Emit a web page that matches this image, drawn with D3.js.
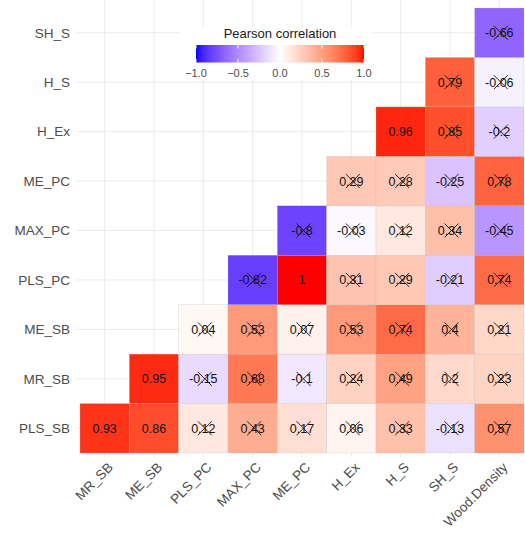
<!DOCTYPE html>
<html>
<head>
<meta charset="utf-8">
<script src="https://cdn.jsdelivr.net/npm/d3@7"></script>
<style>
  html, body { margin: 0; padding: 0; background: #fff; }
  svg { display: block; font-family: "Liberation Sans", Arial, sans-serif; }
</style>
</head>
<body>
<svg id="chart" width="525" height="534"></svg>
<script>
// ---- data ----
const xVars = ["MR_SB", "ME_SB", "PLS_PC", "MAX_PC", "ME_PC", "H_Ex", "H_S", "SH_S", "Wood.Density"];
const yVars = ["PLS_SB", "MR_SB", "ME_SB", "PLS_PC", "MAX_PC", "ME_PC", "H_Ex", "H_S", "SH_S"];
// row i (yVars[i]) holds values for columns xVars[i..8]
const corrRows = [
  [0.93, 0.86, 0.12, 0.43, 0.17, 0.06, 0.33, -0.13, 0.57],
  [0.95, -0.15, 0.68, -0.1, 0.24, 0.49, 0.2, 0.23],
  [0.04, 0.53, 0.07, 0.53, 0.74, 0.4, 0.21],
  [-0.82, 1, 0.31, 0.29, -0.21, 0.74],
  [-0.8, -0.03, 0.12, 0.34, -0.45],
  [0.29, 0.28, -0.25, 0.78],
  [0.96, 0.85, -0.2],
  [0.79, -0.06],
  [-0.66]
];
// 1 = significant (no cross), 0 = insignificant (crossed)
const sigRows = [
  [1, 1, 0, 0, 0, 0, 0, 0, 0],
  [1, 0, 0, 0, 0, 0, 0, 0],
  [0, 0, 0, 0, 0, 0, 0],
  [0, 1, 0, 0, 0, 0],
  [0, 0, 0, 0, 0],
  [0, 0, 0, 0],
  [1, 0, 0],
  [0, 0],
  [0]
];
const legendTicks = [-1, -0.5, 0, 0.5, 1];
const legendTitle = "Pearson correlation";

// ---- build cells ----
const cells = [];
corrRows.forEach((row, i) => {
  row.forEach((v, k) => {
    cells.push({ row: yVars[i], col: xVars[i + k], value: v, sig: sigRows[i][k] === 1 });
  });
});

const svg = d3.select("#chart");

const x = d3.scaleBand().domain(xVars).range([80, 524]).padding(0);
const y = d3.scaleBand().domain(yVars.slice().reverse()).range([8, 453]).padding(0);

const color = d3.scaleLinear()
  .domain([-1, 0, 1])
  .range(["blue", "white", "red"])
  .interpolate(d3.interpolateLab);

const axisGrey = "#4d4d4d";
const gridCol = "#ebebeb";

// grid lines
const grid = svg.append("g");
grid.selectAll("line.v").data(xVars).join("line")
  .attr("x1", d => x(d) + x.bandwidth() / 2).attr("x2", d => x(d) + x.bandwidth() / 2)
  .attr("y1", 0).attr("y2", 457)
  .attr("stroke", gridCol).attr("stroke-width", 1);
grid.selectAll("line.h").data(yVars).join("line")
  .attr("y1", d => y(d) + y.bandwidth() / 2).attr("y2", d => y(d) + y.bandwidth() / 2)
  .attr("x1", 76).attr("x2", 525)
  .attr("stroke", gridCol).attr("stroke-width", 1);

// tiles
const tiles = svg.append("g");
tiles.selectAll("rect").data(cells).join("rect")
  .attr("x", d => x(d.col)).attr("y", d => y(d.row))
  .attr("width", x.bandwidth()).attr("height", y.bandwidth())
  .attr("fill", d => color(d.value))
  .attr("stroke", "#bebebe").attr("stroke-opacity", 0.5).attr("stroke-width", 0.5);

// labels
tiles.selectAll("text").data(cells).join("text")
  .attr("x", d => x(d.col) + x.bandwidth() / 2)
  .attr("y", d => y(d.row) + y.bandwidth() / 2)
  .attr("dy", "0.36em")
  .attr("text-anchor", "middle")
  .attr("font-size", "12.5px")
  .attr("fill", "#111")
  .text(d => String(d.value));

// crosses for insignificant
const cs = 7;
tiles.selectAll("path.cross").data(cells.filter(d => !d.sig)).join("path")
  .attr("class", "cross")
  .attr("transform", d => `translate(${x(d.col) + x.bandwidth() / 2 + 1.5},${y(d.row) + y.bandwidth() / 2})`)
  .attr("d", `M${-cs},${-cs}L${cs},${cs}M${-cs},${cs}L${cs},${-cs}`)
  .attr("stroke", "#111").attr("stroke-width", 0.9).attr("fill", "none");

// y axis labels
svg.append("g").selectAll("text").data(yVars).join("text")
  .attr("x", 70)
  .attr("y", d => y(d) + y.bandwidth() / 2)
  .attr("dy", "0.36em")
  .attr("text-anchor", "end")
  .attr("font-size", "13.5px")
  .attr("fill", axisGrey)
  .text(d => d);

// x axis labels
svg.append("g").selectAll("text").data(xVars).join("text")
  .attr("transform", d => `translate(${x(d) + x.bandwidth() / 2 + 2},${461}) rotate(-45)`)
  .attr("text-anchor", "end")
  .attr("dy", "0.75em")
  .attr("font-size", "13.5px")
  .attr("fill", axisGrey)
  .text(d => d);

// legend
const lg = svg.append("g");
lg.append("rect").attr("x", 180).attr("y", 27).attr("width", 193).attr("height", 53).attr("fill", "#fff");
lg.append("text").attr("x", 280).attr("y", 38).attr("text-anchor", "middle")
  .attr("font-size", "13px").attr("fill", "#1a1a1a").text(legendTitle);

const lx = d3.scaleLinear().domain([-1, 1]).range([196, 364]);
const defs = svg.append("defs");
const grad = defs.append("linearGradient").attr("id", "lgGrad").attr("x1", "0%").attr("x2", "100%");
d3.range(0, 1.0001, 0.02).forEach(t => {
  grad.append("stop").attr("offset", (t * 100) + "%").attr("stop-color", color(-1 + 2 * t));
});
lg.append("rect").attr("x", lx(-1)).attr("y", 45).attr("width", lx(1) - lx(-1)).attr("height", 17.5)
  .attr("fill", "url(#lgGrad)");
lg.selectAll("line.tt").data(legendTicks).join("line")
  .attr("x1", d => lx(d)).attr("x2", d => lx(d)).attr("y1", 45).attr("y2", 48.5)
  .attr("stroke", "#fff").attr("stroke-width", 1);
lg.selectAll("line.tb").data(legendTicks).join("line")
  .attr("x1", d => lx(d)).attr("x2", d => lx(d)).attr("y1", 59).attr("y2", 62.5)
  .attr("stroke", "#fff").attr("stroke-width", 1);
lg.selectAll("text.tl").data(legendTicks).join("text")
  .attr("x", d => lx(d)).attr("y", 77)
  .attr("text-anchor", "middle").attr("font-size", "11px").attr("fill", axisGrey)
  .text(d => d3.format(".1f")(d).replace("-", "\u2212"));
</script>
</body>
</html>
